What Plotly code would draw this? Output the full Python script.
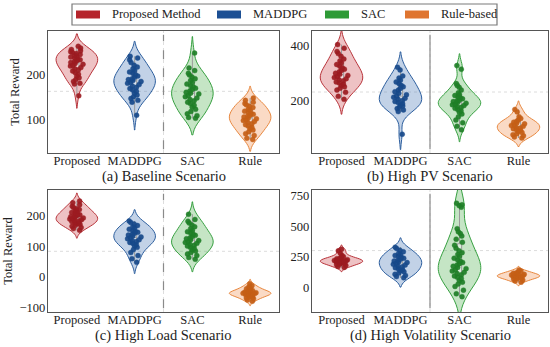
import plotly.graph_objects as go

# ---------------- data ----------------
categories = ["Proposed", "MADDPG", "SAC", "Rule"]
legend_names = ["Proposed Method", "MADDPG", "SAC", "Rule-based"]
panel_titles = ["(a) Baseline Scenario", "(b) High PV Scenario",
                "(c) High Load Scenario", "(d) High Volatility Scenario"]

baseline_proposed = [262, 258, 255, 252, 250, 248, 246, 244, 242, 240, 238, 236, 234, 232, 230, 228, 226,
                     224, 222, 220, 218, 215, 212, 210, 207, 204, 200, 196, 192, 188, 184, 180, 178, 152]
baseline_maddpg = [240, 236, 232, 226, 220, 216, 212, 208, 205, 202, 199, 196, 193, 190, 188, 186, 184,
                   182, 180, 177, 174, 171, 168, 165, 162, 158, 154, 150, 146, 142, 138, 109]
baseline_sac = [247, 214, 208, 202, 198, 194, 190, 186, 182, 178, 175, 172, 169, 166, 163, 160, 158,
                156, 153, 150, 147, 144, 141, 138, 135, 131, 127, 122, 117, 112, 108, 104, 102]
baseline_rule = [147, 142, 138, 135, 132, 129, 126, 123, 120, 118, 116, 113, 111, 109, 107, 105, 103,
                 101, 99, 97, 95, 93, 90, 88, 85, 82, 79, 76, 72, 68, 64, 58, 55]

pv_proposed = [405, 392, 380, 372, 362, 352, 345, 338, 332, 326, 320, 315, 310, 305, 300, 296, 292,
               288, 284, 280, 276, 272, 268, 264, 260, 255, 250, 245, 238, 230, 215, 204]
pv_maddpg = [322, 312, 290, 282, 275, 268, 262, 256, 250, 244, 238, 232, 226, 221, 216, 212, 208,
             204, 200, 196, 192, 188, 184, 180, 175, 170, 165, 159, 76]
pv_sac = [328, 315, 262, 255, 248, 238, 228, 222, 218, 214, 210, 206, 202, 199, 196, 193, 190,
          187, 184, 181, 178, 175, 171, 167, 162, 157, 150, 140, 128, 118, 105, 92]
pv_rule = [167, 158, 140, 134, 128, 124, 120, 117, 114, 111, 108, 105, 102, 99, 96, 93, 90,
           86, 82, 78, 74, 70, 66, 62]

load_proposed = [248, 242, 236, 231, 227, 223, 220, 217, 214, 211, 208, 205, 203, 201, 199, 197, 195,
                 193, 191, 189, 187, 185, 183, 181, 179, 177, 175, 172, 169, 166, 162, 158, 153]
load_maddpg = [183, 178, 173, 168, 164, 160, 156, 152, 149, 146, 143, 140, 137, 134, 131, 128, 125,
               122, 119, 116, 113, 110, 106, 102, 97, 90, 80, 70, 60, 48]
load_sac = [205, 188, 182, 176, 170, 164, 158, 153, 148, 144, 140, 136, 132, 128, 125, 122, 119,
            116, 113, 110, 107, 104, 101, 97, 93, 89, 85, 80, 75, 70, 64, 58]
load_rule = [-22, -28, -32, -35, -38, -40, -42, -44, -46, -48, -49, -50, -51, -52, -53, -54, -55,
             -56, -57, -58, -60, -62, -64, -66, -68, -71, -75, -79]

vol_proposed = [313, 300, 280, 262, 252, 245, 240, 236, 232, 228, 225, 222, 219, 216, 213, 210, 207,
                204, 200, 196, 192, 186, 180, 172, 165]
vol_maddpg = [330, 318, 305, 292, 280, 270, 262, 255, 248, 240, 232, 225, 218, 211, 205, 198, 191,
              184, 177, 170, 162, 154, 146, 138, 130, 120, 110, 100, 90, 80]
vol_sac = [688, 675, 668, 655, 480, 455, 440, 420, 395, 370, 345, 320, 300, 285, 270, 255, 240,
           228, 216, 205, 195, 185, 175, 165, 155, 145, 135, 125, 115, 105, 95, 85, 75, 60, 45, 30,
           10, -20, -50, -73]
vol_rule = [144, 135, 128, 122, 117, 113, 109, 106, 103, 100, 97, 94, 91, 88, 85, 82, 78, 74, 69,
            62, 54, 45]

panels = [
    [baseline_proposed, baseline_maddpg, baseline_sac, baseline_rule],
    [pv_proposed, pv_maddpg, pv_sac, pv_rule],
    [load_proposed, load_maddpg, load_sac, load_rule],
    [vol_proposed, vol_maddpg, vol_sac, vol_rule],
]
y_ranges = [[25, 296], [7, 455], [-114, 284], [-198, 795]]
y_ticks = [[100, 200], [200, 400], [-100, 0, 100, 200], [0, 250, 500, 750]]
ref_levels = [162, 231, 84, 302]

# ---------------- style ----------------
W, H = 550, 347
FONT = "'Liberation Serif', 'Times New Roman', 'DejaVu Serif', serif"
line_colors = ["#b8333a", "#2c5e9e", "#36a040", "#e8873e"]
fill_colors = ["rgba(205,80,85,0.35)", "rgba(80,125,185,0.35)",
               "rgba(90,180,90,0.35)", "rgba(240,150,90,0.35)"]
point_colors = ["#9c1b21", "#17498a", "#1f7f27", "#c55f16"]
legend_colors = ["#b5242b", "#1c4f94", "#2e9a36", "#df7530"]

# panel boxes in pixels: (left, right, top, bottom)
boxes = [(48, 279, 31, 153), (312, 548, 31, 153), (48, 279, 190, 312), (312, 548, 190, 312)]
title_gap = [24, 24, 23, 23]

fig = go.Figure()
shapes = []
annotations = []

for p, (groups, box) in enumerate(zip(panels, boxes)):
    sfx = "" if p == 0 else str(p + 1)
    xa, ya = "x" + sfx, "y" + sfx
    for g, vals in enumerate(groups):
        fig.add_trace(go.Violin(
            x=[categories[g]] * len(vals), y=vals,
            xaxis=xa, yaxis=ya,
            width=0.72, scalemode="width", spanmode="soft",
            line=dict(color=line_colors[g], width=1),
            fillcolor=fill_colors[g],
            points="all", jitter=0.35, pointpos=0,
            marker=dict(size=5, color=point_colors[g], opacity=0.92,
                        line=dict(width=0.4, color=point_colors[g])),
            box=dict(visible=True, width=0.1, fillcolor="rgba(255,255,255,0.4)",
                     line=dict(color="#9a9a9a", width=1)),
            meanline=dict(visible=False),
            showlegend=False, hoverinfo="skip",
        ))
    l, r, t, b = box
    fig.layout["xaxis" + sfx] = dict(
        domain=[l / W, r / W], anchor=ya, type="category", automargin=False,
        categoryorder="array", categoryarray=categories, range=[-0.5, 3.5],
        showline=True, mirror=True, linecolor="#555555", linewidth=1.3,
        ticks="", showgrid=False, zeroline=False, ticklabelstandoff=-4,
        tickfont=dict(family=FONT, size=12.5, color="#222222"),
    )
    fig.layout["yaxis" + sfx] = dict(
        domain=[1 - b / H, 1 - t / H], anchor=xa, range=y_ranges[p], automargin=False,
        tickvals=y_ticks[p], ticktext=[("\u2212" + str(-v)) if v < 0 else str(v) for v in y_ticks[p]],
        showline=True, mirror=True, linecolor="#555555", linewidth=1.3,
        ticks="", showgrid=False, zeroline=False, ticklabelstandoff=-1,
        tickfont=dict(family=FONT, size=12.5, color="#222222"),
        title=dict(text="Total Reward" if p in (0, 2) else "",
                   font=dict(family=FONT, size=12.5, color="#222222"), standoff=4),
    )
    # reference lines
    shapes.append(dict(type="line", xref=xa + " domain", yref=ya, x0=0, x1=1,
                       y0=ref_levels[p], y1=ref_levels[p],
                       line=dict(color="#dcdcdc", width=1, dash="dot"), layer="below"))
    shapes.append(dict(type="line", xref=xa, yref=ya + " domain", x0=1.5, x1=1.5, y0=0, y1=1,
                       line=dict(color="#dddddd", width=1, dash="dot"), layer="below"))
    shapes.append(dict(type="line", xref=xa, yref=ya + " domain", x0=1.5, x1=1.5, y0=0.03, y1=0.97,
                       line=dict(color="#8a8a8a", width=1.2,
                                 dash="dash" if p in (0, 2) else "solid"), layer="below"))
    # panel title
    annotations.append(dict(text=panel_titles[p], xref="paper", yref="paper",
                            x=(l + r) / 2 / W, y=1 - (b + title_gap[p]) / H,
                            xanchor="center", yanchor="middle",
                            showarrow=False, font=dict(family=FONT, size=14.5, color="#222222")))

# ---------------- manual legend ----------------
shapes.append(dict(type="rect", xref="paper", yref="paper",
                   x0=72 / W, x1=497 / W, y0=1 - 25 / H, y1=1 - 4 / H,
                   line=dict(color="#7a7a7a", width=1.2), fillcolor="white"))
rect_x = [76, 217, 325, 405]
text_x = [110, 251, 359, 439]
for i in range(4):
    shapes.append(dict(type="rect", xref="paper", yref="paper",
                       x0=rect_x[i] / W, x1=(rect_x[i] + 24) / W, y0=1 - 18.5 / H, y1=1 - 10.5 / H,
                       line=dict(width=0), fillcolor=legend_colors[i]))
    annotations.append(dict(text=legend_names[i], xref="paper", yref="paper",
                            x=text_x[i] / W, y=1 - 14.5 / H, xanchor="left", yanchor="middle",
                            showarrow=False, font=dict(family=FONT, size=12.5, color="#222222")))

fig.update_layout(
    width=W, height=H, margin=dict(l=0, r=0, t=0, b=0, autoexpand=False),
    paper_bgcolor="white", plot_bgcolor="white",
    violinmode="overlay", shapes=shapes, annotations=annotations,
    font=dict(family=FONT, size=12.5, color="#222222"),
)

fig.write_html("out.html", config={"displayModeBar": False, "staticPlot": True},
               post_script="document.body.style.margin='0px';document.body.style.overflow='hidden';")
